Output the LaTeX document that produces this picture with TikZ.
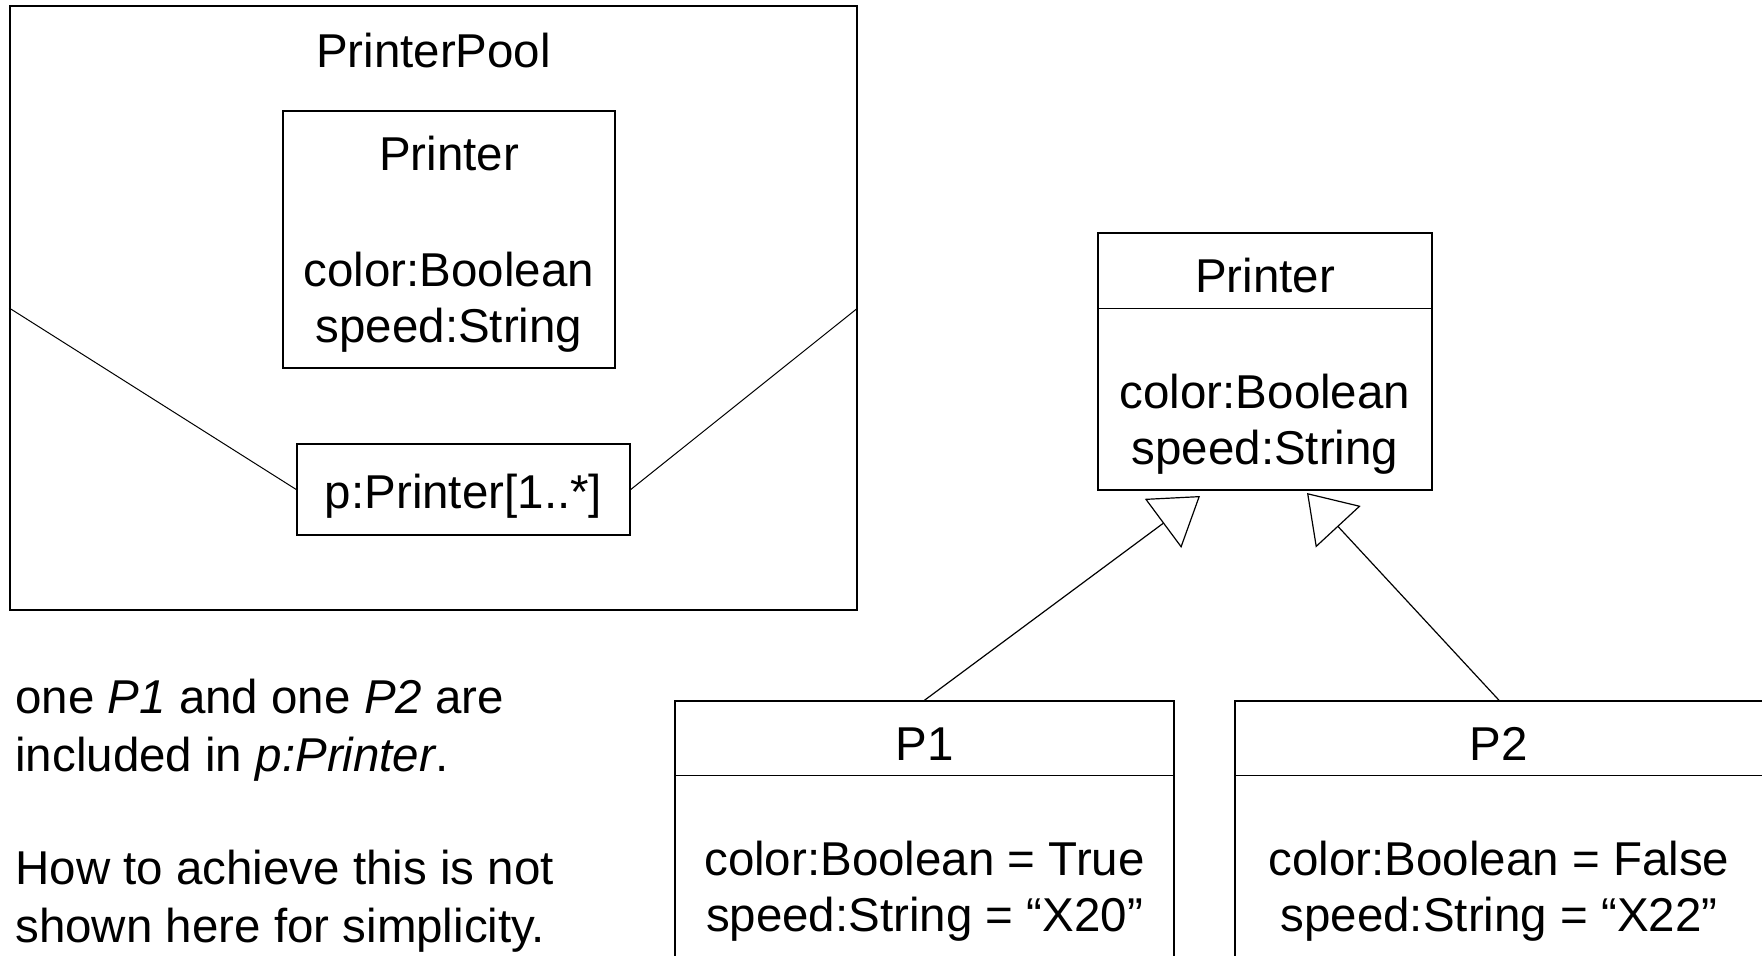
\documentclass[tikz,border=0pt]{standalone}
\usepackage{fontspec}
\setmainfont{Liberation Sans}
\usetikzlibrary{arrows.meta}
\begin{document}
\begin{tikzpicture}[x=0.5pt,y=-0.5pt,
  box/.style={draw=black, line width=0.75pt, inner sep=0pt, rectangle},
  txt/.style={inner sep=0pt, anchor=base, font=\fontsize{23.75pt}{28.5pt}\selectfont},
  ltxt/.style={txt, anchor=base west},
  conn/.style={line width=0.5pt},
  divline/.style={line width=0.75pt},
  inh/.style={line width=0.6pt, -{Triangle[open, length=23pt, width=30.5pt]}}]
\useasboundingbox (0,0) rectangle (1762,955);
\clip (0,0) rectangle (1762,955);
% PrinterPool composite
\node[box, minimum width=423.5pt, minimum height=302pt] (pool) at (433.5,308) {};
\node[txt] (poolname) at (433.5,67) {PrinterPool};
\node[box, minimum width=166pt, minimum height=128.5pt] (inner) at (449,239.5) {};
\node[txt] (innername) at (449,170) {Printer};
\node[txt] (innerA) at (449,286) {color:Boolean};
\node[txt] (innerB) at (449,342) {speed:String};
\node[box, minimum width=166.5pt, minimum height=45.5pt] (part) at (463.5,489.5) {};
\node[txt] (partname) at (463.5,508) {p:Printer[1..*]};
\draw[conn] (pool.west) -- (part.west);
\draw[conn] (part.east) -- (pool.east);
% Printer class
\node[box, minimum width=167pt, minimum height=128.5pt] (cls) at (1265,361.5) {};
\draw[divline] ([yshift=-38pt]cls.north west) -- ([yshift=-38pt]cls.north east);
\node[txt] (clsname) at (1265,292) {Printer};
\node[txt] (clsA) at (1265,408) {color:Boolean};
\node[txt] (clsB) at (1265,464) {speed:String};
% P1
\node[box, minimum width=249.5pt, minimum height=149.5pt] (p1) at (924.5,850.5) {};
\draw[divline] ([yshift=-37.5pt]p1.north west) -- ([yshift=-37.5pt]p1.north east);
\node[txt] (p1name) at (924.5,760) {P1};
\node[txt] (p1A) at (924.5,875) {color:Boolean = True};
\node[txt] (p1B) at (924.5,931) {speed:String = “X20”};
% P2
\node[box, minimum width=264pt, minimum height=149.5pt] (p2) at (1499,850.5) {};
\draw[divline] ([yshift=-37.5pt]p2.north west) -- ([yshift=-37.5pt]p2.north east);
\node[txt] (p2name) at (1499,760) {P2};
\node[txt] (p2A) at (1499,875) {color:Boolean = False};
\node[txt] (p2B) at (1499,931) {speed:String = “X22”};
% generalizations
\coordinate (t1) at (1200,496);
\coordinate (t2) at (1307,493);
\draw[inh] (p1.north) -- (t1);
\draw[inh] (p2.north) -- (t2);
% note
\node[ltxt] (n1) at (15,713) {one \textit{P1} and one \textit{P2} are};
\node[ltxt] (n2) at (15,771) {included in \textit{p:Printer}.};
\node[ltxt] (n3) at (15,884) {How to achieve this is not};
\node[ltxt] (n4) at (15,942) {shown here for simplicity.};
\end{tikzpicture}
\end{document}
